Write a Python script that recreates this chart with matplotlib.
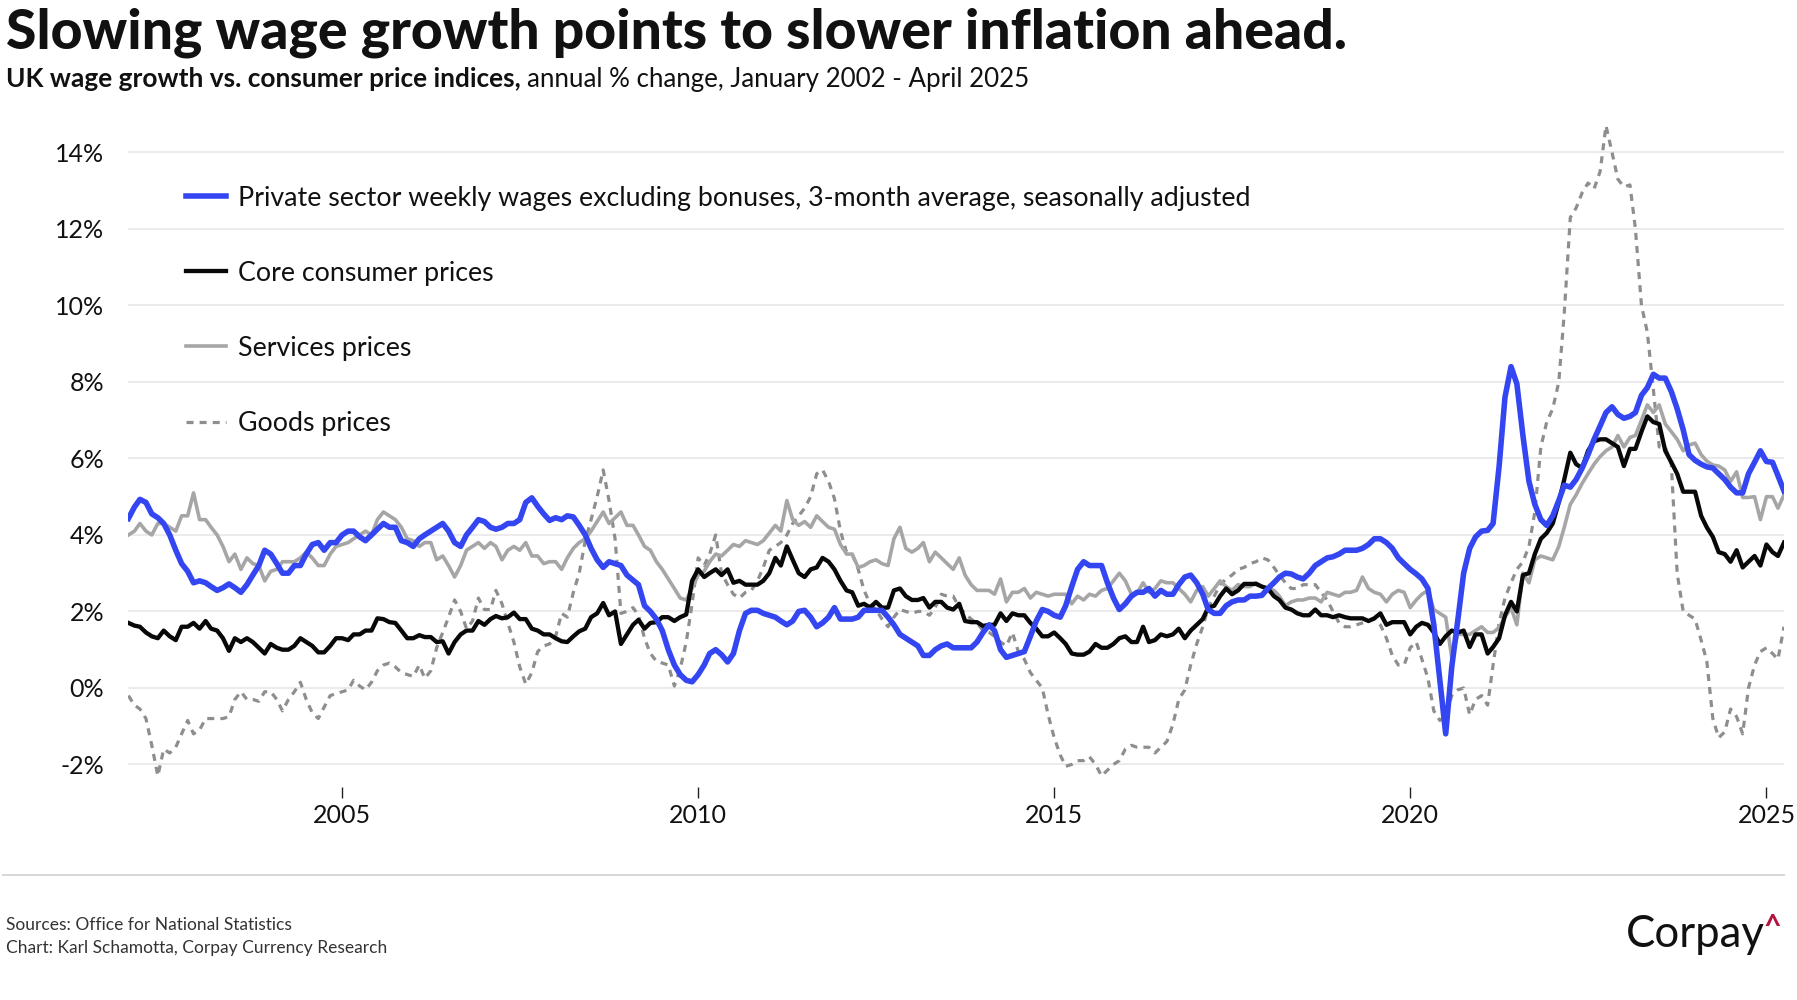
import matplotlib
matplotlib.use('Agg')
import matplotlib.pyplot as plt
import matplotlib.dates as mdates
from matplotlib.lines import Line2D
from matplotlib.ticker import FuncFormatter
import pandas as pd

plt.rcParams['font.family'] = ['Lato', 'DejaVu Sans']

# Monthly observations, January 2002 - April 2025
months = pd.date_range('2002-01-01', '2025-04-01', freq='MS')

# Private sector weekly wages excl. bonuses, 3m avg, % y/y
wages = [
    4.43, 4.73, 4.93, 4.85, 4.55, 4.45, 4.3, 4.0, 3.6, 3.25, 3.05, 2.75,
    2.8, 2.75, 2.65, 2.55, 2.62, 2.72, 2.62, 2.5, 2.7, 2.95, 3.2, 3.6,
    3.5, 3.25, 3.0, 3.0, 3.2, 3.2, 3.5, 3.75, 3.8, 3.6, 3.8, 3.8,
    4.0, 4.1, 4.1, 3.95, 3.85, 4.0, 4.15, 4.3, 4.2, 4.2, 3.85, 3.8,
    3.7, 3.9, 4.0, 4.1, 4.2, 4.3, 4.1, 3.8, 3.7, 4.0, 4.2, 4.4,
    4.35, 4.2, 4.15, 4.2, 4.3, 4.3, 4.4, 4.85, 4.97, 4.75, 4.55, 4.38,
    4.45, 4.4, 4.5, 4.47, 4.25, 4.0, 3.65, 3.35, 3.15, 3.3, 3.25, 3.2,
    2.95, 2.82, 2.7, 2.15, 2.0, 1.8, 1.5, 1.0, 0.6, 0.35, 0.2, 0.16,
    0.35, 0.6, 0.9, 1.0, 0.87, 0.68, 0.9, 1.5, 1.95, 2.03, 2.03, 1.95,
    1.9, 1.85, 1.75, 1.65, 1.75, 2.0, 2.03, 1.85, 1.6, 1.7, 1.85, 2.1,
    1.8, 1.8, 1.8, 1.85, 2.03, 2.03, 2.03, 2.03, 1.85, 1.65, 1.4, 1.3,
    1.2, 1.1, 0.85, 0.85, 1.0, 1.1, 1.15, 1.05, 1.05, 1.05, 1.05, 1.2,
    1.45, 1.65, 1.5, 1.0, 0.8, 0.85, 0.9, 0.95, 1.35, 1.75, 2.05, 2.0,
    1.9, 1.85, 2.15, 2.65, 3.1, 3.3, 3.2, 3.2, 3.2, 2.75, 2.35, 2.05,
    2.2, 2.4, 2.5, 2.5, 2.6, 2.4, 2.55, 2.45, 2.45, 2.7, 2.9, 2.95,
    2.75, 2.45, 2.05, 1.95, 1.95, 2.15, 2.25, 2.3, 2.3, 2.4, 2.4, 2.42,
    2.6, 2.75, 2.9, 3.0, 2.98, 2.9, 2.85, 3.0, 3.2, 3.3, 3.4, 3.43,
    3.5, 3.6, 3.6, 3.6, 3.65, 3.75, 3.9, 3.9, 3.8, 3.65, 3.4, 3.25,
    3.1, 2.98, 2.85, 2.6, 1.65, 0.2, -1.2, 0.55, 1.77, 3.0, 3.65, 3.95,
    4.1, 4.12, 4.3, 5.8, 7.6, 8.4, 7.95, 6.6, 5.4, 4.8, 4.4, 4.25,
    4.5, 4.9, 5.3, 5.25, 5.45, 5.75, 6.1, 6.5, 6.85, 7.2, 7.35, 7.15,
    7.05, 7.1, 7.2, 7.65, 7.85, 8.2, 8.1, 8.1, 7.75, 7.3, 6.75, 6.1,
    5.95, 5.85, 5.78, 5.75, 5.6, 5.45, 5.25, 5.1, 5.1, 5.6, 5.9, 6.2,
    5.92, 5.9, 5.55, 5.15,
]

# Core CPI, % y/y
core = [
    1.7, 1.63, 1.6, 1.45, 1.35, 1.3, 1.5, 1.35, 1.25, 1.6, 1.6, 1.7,
    1.55, 1.75, 1.55, 1.5, 1.3, 0.97, 1.3, 1.2, 1.3, 1.2, 1.05, 0.9,
    1.15, 1.05, 1.0, 1.0, 1.1, 1.3, 1.2, 1.1, 0.93, 0.93, 1.1, 1.3,
    1.3, 1.25, 1.4, 1.4, 1.5, 1.5, 1.82, 1.8, 1.72, 1.7, 1.5, 1.3,
    1.3, 1.38, 1.33, 1.33, 1.2, 1.22, 0.9, 1.2, 1.4, 1.5, 1.5, 1.75,
    1.65, 1.8, 1.88, 1.82, 1.85, 1.97, 1.8, 1.8, 1.55, 1.5, 1.4, 1.4,
    1.3, 1.22, 1.2, 1.35, 1.48, 1.55, 1.85, 1.95, 2.22, 1.9, 2.0, 1.15,
    1.4, 1.65, 1.78, 1.55, 1.7, 1.72, 1.85, 1.85, 1.75, 1.85, 1.92, 2.8,
    3.1, 2.9, 3.0, 3.1, 2.95, 3.1, 2.75, 2.8, 2.7, 2.7, 2.7, 2.8,
    3.0, 3.4, 3.2, 3.7, 3.35, 3.0, 2.9, 3.1, 3.15, 3.4, 3.3, 3.1,
    2.8, 2.55, 2.5, 2.15, 2.2, 2.1, 2.25, 2.1, 2.1, 2.55, 2.6, 2.4,
    2.3, 2.3, 2.35, 2.1, 2.25, 2.25, 2.1, 2.05, 2.2, 1.75, 1.72, 1.72,
    1.62, 1.65, 1.65, 1.95, 1.75, 1.95, 1.9, 1.9, 1.7, 1.55, 1.35, 1.35,
    1.45, 1.3, 1.15, 0.9, 0.87, 0.87, 0.95, 1.15, 1.05, 1.05, 1.15, 1.3,
    1.35, 1.2, 1.2, 1.6, 1.2, 1.25, 1.4, 1.35, 1.4, 1.55, 1.3, 1.5,
    1.65, 1.8, 2.1, 2.15, 2.4, 2.6, 2.45, 2.55, 2.72, 2.72, 2.72, 2.65,
    2.6, 2.4, 2.3, 2.1, 2.05, 1.95, 1.9, 1.9, 2.05, 1.9, 1.9, 1.85,
    1.9, 1.85, 1.82, 1.82, 1.82, 1.75, 1.82, 1.95, 1.65, 1.72, 1.72, 1.72,
    1.4, 1.6, 1.7, 1.65, 1.45, 1.15, 1.35, 1.5, 1.45, 1.5, 1.07, 1.4,
    1.4, 0.9, 1.07, 1.3, 1.9, 2.25, 2.0, 2.95, 3.0, 3.5, 3.9, 4.05,
    4.3, 4.85, 5.45, 6.15, 5.85, 5.75, 6.2, 6.45, 6.5, 6.5, 6.4, 6.3,
    5.8, 6.25, 6.25, 6.7, 7.1, 6.95, 6.9, 6.2, 5.9, 5.6, 5.13, 5.13,
    5.13, 4.5, 4.2, 3.95, 3.55, 3.5, 3.3, 3.6, 3.15, 3.3, 3.45, 3.2,
    3.75, 3.55, 3.45, 3.8,
]

# Services CPI, % y/y
services = [
    4.0, 4.1, 4.3, 4.1, 4.0, 4.3, 4.3, 4.2, 4.1, 4.5, 4.5, 5.1,
    4.4, 4.4, 4.2, 4.0, 3.7, 3.3, 3.5, 3.1, 3.4, 3.25, 3.2, 2.8,
    3.05, 3.1, 3.3, 3.3, 3.3, 3.4, 3.55, 3.4, 3.2, 3.2, 3.5, 3.7,
    3.75, 3.8, 3.9, 4.0, 4.1, 4.0, 4.4, 4.6, 4.5, 4.4, 4.2, 3.9,
    3.85, 3.7, 3.8, 3.8, 3.35, 3.45, 3.2, 2.9, 3.2, 3.6, 3.7, 3.8,
    3.65, 3.8, 3.7, 3.35, 3.6, 3.7, 3.6, 3.8, 3.45, 3.45, 3.25, 3.3,
    3.3, 3.1, 3.4, 3.65, 3.8, 3.9, 4.1, 4.35, 4.6, 4.3, 4.45, 4.6,
    4.25, 4.25, 4.0, 3.7, 3.6, 3.3, 3.1, 2.85, 2.6, 2.35, 2.3, 2.6,
    2.95, 3.05, 3.3, 3.5, 3.45, 3.6, 3.75, 3.7, 3.85, 3.8, 3.75, 3.85,
    4.05, 4.25, 4.1, 4.9, 4.4, 4.25, 4.35, 4.2, 4.5, 4.35, 4.2, 4.15,
    3.75, 3.5, 3.5, 3.15, 3.2, 3.3, 3.35, 3.25, 3.2, 3.9, 4.2, 3.65,
    3.55, 3.65, 3.8, 3.3, 3.55, 3.4, 3.25, 3.1, 3.4, 2.95, 2.7, 2.55,
    2.55, 2.55, 2.45, 2.85, 2.25, 2.5, 2.5, 2.6, 2.35, 2.5, 2.45, 2.4,
    2.45, 2.45, 2.45, 2.2, 2.4, 2.3, 2.45, 2.4, 2.55, 2.6, 2.8, 3.0,
    2.8, 2.45, 2.47, 2.75, 2.5, 2.6, 2.8, 2.75, 2.75, 2.6, 2.45, 2.25,
    2.55, 2.65, 2.4, 2.6, 2.8, 2.65, 2.55, 2.7, 2.65, 2.65, 2.75, 2.65,
    2.6, 2.55, 2.4, 2.15, 2.25, 2.3, 2.3, 2.35, 2.35, 2.25, 2.5, 2.45,
    2.4, 2.5, 2.5, 2.55, 2.9, 2.6, 2.5, 2.45, 2.25, 2.45, 2.55, 2.5,
    2.1, 2.3, 2.45, 2.55, 2.05, 1.95, 1.85, 0.8, 1.4, 1.4, 1.4, 1.5,
    1.6, 1.45, 1.45, 1.58, 1.85, 2.1, 1.65, 3.0, 2.75, 3.35, 3.45, 3.4,
    3.35, 3.7, 4.2, 4.8, 5.05, 5.35, 5.6, 5.85, 6.05, 6.2, 6.3, 6.6,
    6.3, 6.55, 6.6, 7.0, 7.4, 7.2, 7.4, 6.9, 6.7, 6.5, 6.2, 6.35,
    6.4, 6.1, 5.93, 5.83, 5.8, 5.7, 5.4, 5.65, 4.98, 4.98, 5.0, 4.4,
    5.0, 5.0, 4.7, 5.05,
]

# Goods CPI, % y/y
goods = [
    -0.2, -0.45, -0.55, -0.8, -1.5, -2.3, -1.6, -1.7, -1.55, -1.2, -0.85, -1.2,
    -1.1, -0.8, -0.8, -0.8, -0.8, -0.75, -0.3, -0.1, -0.3, -0.3, -0.35, -0.1,
    -0.1, -0.3, -0.6, -0.3, -0.1, 0.15, -0.3, -0.65, -0.8, -0.5, -0.2, -0.15,
    -0.1, -0.05, 0.2, 0.05, -0.05, 0.15, 0.45, 0.6, 0.65, 0.55, 0.4, 0.35,
    0.3, 0.6, 0.25, 0.45, 1.05, 1.45, 1.85, 2.3, 2.0, 1.55, 1.75, 2.35,
    2.05, 2.05, 2.55, 2.2, 1.7, 1.2, 0.55, 0.1, 0.4, 0.95, 1.1, 1.15,
    1.35, 1.95, 1.85, 2.5, 3.0, 3.85, 4.4, 5.0, 5.7, 4.9, 3.9, 1.95,
    2.0, 2.1, 1.9, 1.3, 0.9, 0.7, 0.65, 0.6, 0.05, 0.5, 1.2, 2.2,
    3.4, 3.2, 3.5, 4.0, 3.0, 2.7, 2.45, 2.35, 2.5, 2.55, 2.8, 3.15,
    3.6, 3.7, 3.8, 4.0, 4.3, 4.5, 4.7, 5.0, 5.6, 5.7, 5.4, 4.95,
    4.1, 3.55, 3.5, 3.1, 2.55, 2.2, 2.05, 1.8, 1.6, 1.85, 2.05, 2.0,
    1.95, 2.0, 2.0, 1.9, 2.1, 2.45, 2.4, 2.4, 2.1, 1.95, 1.8, 1.7,
    1.5, 1.45, 1.35, 1.2, 1.1, 1.45, 0.95, 0.75, 0.4, 0.2, 0.0, -0.7,
    -1.3, -1.75, -2.05, -2.0, -1.9, -1.9, -1.8, -2.0, -2.3, -2.15, -2.0, -1.9,
    -1.6, -1.5, -1.55, -1.55, -1.55, -1.7, -1.55, -1.4, -0.95, -0.3, -0.05, 0.6,
    1.15, 1.6, 2.1, 2.4, 2.7, 2.85, 2.95, 3.1, 3.15, 3.25, 3.3, 3.4,
    3.35, 3.15, 2.95, 2.75, 2.6, 2.6, 2.7, 2.7, 2.7, 2.5, 2.3, 2.0,
    1.7, 1.6, 1.6, 1.65, 1.7, 1.75, 1.8, 1.65, 1.3, 0.85, 0.6, 0.6,
    1.05, 1.2, 0.75, 0.25, -0.6, -0.85, -0.75, -0.2, -0.05, 0.0, -0.7, -0.3,
    -0.2, -0.45, 0.6, 1.7, 2.35, 2.75, 3.1, 3.3, 3.7, 4.6, 6.3, 6.95,
    7.3, 8.0, 9.8, 12.3, 12.55, 12.95, 13.2, 13.05, 13.5, 14.7, 14.0, 13.3,
    13.1, 13.15, 12.0, 10.0, 9.3, 7.8, 6.3, 6.3, 5.85, 3.0, 2.0, 1.9,
    1.8, 1.25, 0.7, -0.8, -1.3, -1.15, -0.55, -0.75, -1.2, 0.0, 0.6, 0.95,
    1.05, 0.9, 0.75, 1.6,
]

labels = [
    'Private sector weekly wages excluding bonuses, 3-month average, seasonally adjusted',
    'Core consumer prices',
    'Services prices',
    'Goods prices',
]

W, H = 1797, 1000


def px_x(x):
    return x / W


def px_y(y):
    # pixel rows are counted from the top
    return 1 - y / H


fig = plt.figure(figsize=(W / 100, H / 100), dpi=100)
ax = fig.add_axes([px_x(128.4), px_y(787.4), px_x(1655.6), 669.4 / H])

# Draw from the back to the front
l_goods, = ax.plot(months, goods, color='#8e8e8e', lw=2.3, dashes=(2.2, 1.9),
                   label=labels[3], zorder=2)
l_serv, = ax.plot(months, services, color='#a6a6a6', lw=2.6,
                  label=labels[2], zorder=3)
l_core, = ax.plot(months, core, color='#080808', lw=3.1,
                  label=labels[1], zorder=4)
l_wage, = ax.plot(months, wages, color='#3346f2', lw=4.0,
                  label=labels[0], zorder=5)

ax.set_xlim(months[0], months[-1])
ax.set_ylim(-2.6, 14.9)

for side in ['top', 'right', 'left', 'bottom']:
    ax.spines[side].set_visible(False)

ax.set_yticks(range(-2, 15, 2))
ax.yaxis.set_major_formatter(FuncFormatter(lambda v, p: '{0:.0f}%'.format(v)))
ax.yaxis.grid(True, color='#e6e6e6', lw=1.1)
ax.set_axisbelow(True)
ax.tick_params(axis='y', length=0, pad=17.5, labelsize=18, labelcolor='#111111')

ax.xaxis.set_major_locator(mdates.YearLocator(5))
ax.xaxis.set_major_formatter(mdates.DateFormatter('%Y'))
ax.tick_params(axis='x', length=8, width=1.0, color='#222222', pad=4,
               labelsize=18, labelcolor='#111111')

leg = ax.legend(handles=[l_wage, l_core, l_serv, l_goods], loc='upper left',
                bbox_to_anchor=(0.0346, 0.899), frameon=False, fontsize=19.3,
                handlelength=1.49, handletextpad=0.47, labelspacing=1.87,
                borderpad=0, borderaxespad=0)
for t in leg.get_texts():
    t.set_color('#111111')

# Titles
fig.text(px_x(6), px_y(48), 'Slowing wage growth points to slower inflation ahead.',
         fontsize=39.8, fontweight='black', color='#111111', va='baseline')
sub1 = fig.text(px_x(6), px_y(87), 'UK wage growth vs. consumer price indices,',
                fontsize=18.9, fontweight='bold', color='#111111', va='baseline')
renderer = fig.canvas.get_renderer()
bb = sub1.get_window_extent(renderer)
fig.text(px_x(bb.x1 + 6), px_y(87), 'annual % change, January 2002 - April 2025',
         fontsize=18.6, color='#111111', va='baseline')

# Footer
fig.add_artist(Line2D([px_x(3.4), px_x(1784)], [px_y(874.6), px_y(874.6)],
                      color='#d6d6d6', lw=1.4))
fig.text(px_x(6), px_y(929.5), 'Sources: Office for National Statistics',
         fontsize=12.5, color='#333333', va='baseline')
fig.text(px_x(6), px_y(953.5), 'Chart: Karl Schamotta, Corpay Currency Research',
         fontsize=12.5, color='#333333', va='baseline')
fig.text(px_x(1765), px_y(946.6), 'Corpay', fontsize=31.5, color='#111111',
         ha='right', va='baseline')
fig.text(px_x(1781), px_y(913), '^', fontsize=22, fontweight='bold',
         color='#b3123d', ha='right', va='top')

fig.savefig('out.png', dpi=100)
plt.close()
